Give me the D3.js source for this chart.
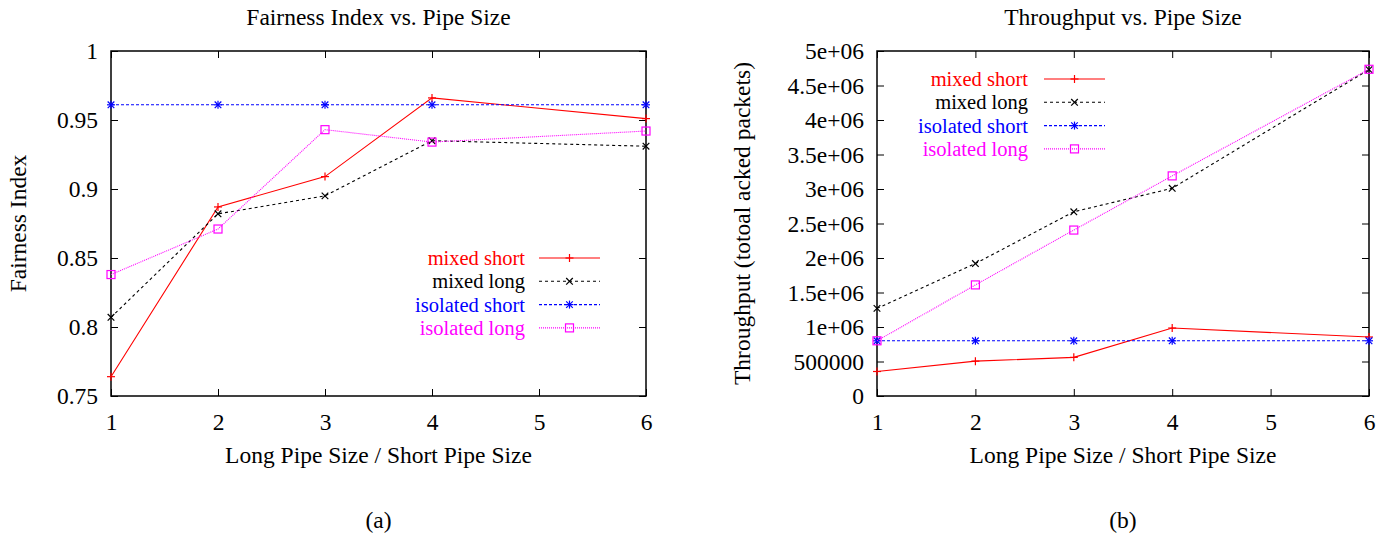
<!DOCTYPE html>
<html>
<head>
<meta charset="utf-8">
<script src="https://cdn.jsdelivr.net/npm/d3@7"></script>
<style>
  html, body { margin: 0; padding: 0; background: #fff; }
  svg { display: block; }
  text { font-family: "Liberation Serif", "Times New Roman", serif; }
</style>
</head>
<body>
<svg id="chart" width="1397" height="538"></svg>
<script>
// ---- data ----
const pipeRatio = [1, 2, 3, 4, 6];
const xTicks = [1, 2, 3, 4, 5, 6];
const seriesNames = ["mixed short", "mixed long", "isolated short", "isolated long"];

const fairMixedShort = [0.764, 0.887, 0.909, 0.966, 0.951];
const fairMixedLong  = [0.807, 0.882, 0.895, 0.935, 0.931];
const fairIsoShort   = [0.961, 0.961, 0.961, 0.961, 0.961];
const fairIsoLong    = [0.838, 0.871, 0.943, 0.934, 0.942];
const fairTicks      = [0.75, 0.8, 0.85, 0.9, 0.95, 1];
const fairTickLabels = ["0.75", "0.8", "0.85", "0.9", "0.95", "1"];

const thrMixedShort = [355000, 505000, 560000, 985000, 855000];
const thrMixedLong  = [1270000, 1920000, 2670000, 3010000, 4730000];
const thrIsoShort   = [800000, 800000, 800000, 800000, 800000];
const thrIsoLong    = [800000, 1610000, 2405000, 3190000, 4735000];
const thrTicks      = [0, 500000, 1000000, 1500000, 2000000, 2500000, 3000000, 3500000, 4000000, 4500000, 5000000];
const thrTickLabels = ["0", "500000", "1e+06", "1.5e+06", "2e+06", "2.5e+06", "3e+06", "3.5e+06", "4e+06", "4.5e+06", "5e+06"];

// ---- styles ----
const styles = [
  { color: "#ff0000", dash: null,  marker: "plus" },
  { color: "#000000", dash: "3,3", marker: "cross" },
  { color: "#0000ff", dash: "3,2", marker: "star" },
  { color: "#ff00ff", dash: "1,1", marker: "square" }
];

const svg = d3.select("#chart");
const FS = 23.5;
const LEG_FS = 20.5;
const FONT = '"Liberation Serif", "Times New Roman", serif';

function txt(g, fs) {
  return g.append("text").attr("font-family", FONT).attr("font-size", fs || FS);
}

function marker(g, type, x, y, color) {
  const s = 4;
  if (type === "plus" || type === "star") {
    g.append("line").attr("x1", x - s).attr("x2", x + s).attr("y1", y).attr("y2", y).attr("stroke", color).attr("stroke-width", 1.2);
    g.append("line").attr("x1", x).attr("x2", x).attr("y1", y - s).attr("y2", y + s).attr("stroke", color).attr("stroke-width", 1.2);
  }
  if (type === "cross" || type === "star") {
    const d = 3.3;
    g.append("line").attr("x1", x - d).attr("x2", x + d).attr("y1", y - d).attr("y2", y + d).attr("stroke", color).attr("stroke-width", 1.2);
    g.append("line").attr("x1", x - d).attr("x2", x + d).attr("y1", y + d).attr("y2", y - d).attr("stroke", color).attr("stroke-width", 1.2);
  }
  if (type === "square") {
    g.append("rect").attr("x", x - 4).attr("y", y - 4).attr("width", 8).attr("height", 8)
      .attr("fill", "none").attr("stroke", color).attr("stroke-width", 1.2);
  }
}

function panel(cfg) {
  const x = d3.scaleLinear().domain([1, 6]).range([cfg.left, cfg.right]);
  const y = d3.scaleLinear().domain(cfg.yDomain).range([cfg.bottom, cfg.top]);
  const g = svg.append("g");
  const tl = 7;

  // axes with inward ticks (mirror on all sides)
  const axB = d3.axisBottom(x).tickValues(xTicks).tickFormat(d3.format("d")).tickSizeInner(-tl).tickSizeOuter(0).tickPadding(17);
  const axT = d3.axisTop(x).tickValues(xTicks).tickFormat("").tickSizeInner(-tl).tickSizeOuter(0);
  const axL = d3.axisLeft(y).tickValues(cfg.yTicks).tickFormat((d, i) => cfg.yLabels[i]).tickSizeInner(-tl).tickSizeOuter(0).tickPadding(13);
  const axR = d3.axisRight(y).tickValues(cfg.yTicks).tickFormat("").tickSizeInner(-tl).tickSizeOuter(0);

  [[axB, `translate(0,${cfg.bottom})`], [axT, `translate(0,${cfg.top})`],
   [axL, `translate(${cfg.left},0)`], [axR, `translate(${cfg.right},0)`]].forEach(([ax, tr]) => {
    const a = g.append("g").attr("transform", tr).call(ax).attr("font-family", FONT).attr("font-size", FS);
    a.select(".domain").remove();
    a.selectAll("line").attr("stroke", "#000").attr("stroke-width", 1);
    a.selectAll("text").attr("fill", "#000");
  });

  // frame
  g.append("rect").attr("x", cfg.left).attr("y", cfg.top)
    .attr("width", cfg.right - cfg.left).attr("height", cfg.bottom - cfg.top)
    .attr("fill", "none").attr("stroke", "#000").attr("stroke-width", 1.5);

  // series
  const line = d3.line().x((d, i) => x(pipeRatio[i])).y(d => y(d));
  cfg.series.forEach((vals, k) => {
    const st = styles[k];
    g.append("path").datum(vals).attr("d", line).attr("fill", "none")
      .attr("stroke", st.color).attr("stroke-width", 1.1)
      .attr("stroke-dasharray", st.dash);
    vals.forEach((v, i) => marker(g, st.marker, x(pipeRatio[i]), y(v), st.color));
  });

  // legend
  seriesNames.forEach((name, k) => {
    const st = styles[k];
    const ly = cfg.legY + k * 23.3;
    txt(g, LEG_FS).attr("x", cfg.legTextRight).attr("y", ly).attr("dy", "0.35em")
      .attr("text-anchor", "end").attr("fill", st.color).text(name);
    g.append("line").attr("x1", cfg.legLineX).attr("x2", cfg.legLineX + 61)
      .attr("y1", ly).attr("y2", ly).attr("stroke", st.color).attr("stroke-width", 1.1)
      .attr("stroke-dasharray", st.dash);
    marker(g, st.marker, cfg.legLineX + 30.5, ly, st.color);
  });

  // titles
  const cx = (cfg.left + cfg.right) / 2;
  txt(g).attr("x", cx).attr("y", 25).attr("text-anchor", "middle").text(cfg.title);
  txt(g).attr("x", cx).attr("y", 463).attr("text-anchor", "middle").text("Long Pipe Size / Short Pipe Size");
  txt(g).attr("x", cx).attr("y", 528).attr("text-anchor", "middle").text(cfg.tag);
  txt(g).attr("transform", `translate(${cfg.yLabelX},${(cfg.top + cfg.bottom) / 2}) rotate(-90)`)
    .attr("text-anchor", "middle").attr("dy", "0.35em").text(cfg.yLabel);
}

panel({
  left: 111, right: 646, top: 51, bottom: 396,
  yDomain: [0.75, 1], yTicks: fairTicks, yLabels: fairTickLabels,
  series: [fairMixedShort, fairMixedLong, fairIsoShort, fairIsoLong],
  legY: 258, legTextRight: 525, legLineX: 539,
  title: "Fairness Index vs. Pipe Size", tag: "(a)",
  yLabel: "Fairness Index", yLabelX: 18
});

panel({
  left: 877, right: 1369, top: 51, bottom: 396,
  yDomain: [0, 5000000], yTicks: thrTicks, yLabels: thrTickLabels,
  series: [thrMixedShort, thrMixedLong, thrIsoShort, thrIsoLong],
  legY: 79, legTextRight: 1028, legLineX: 1044,
  title: "Throughput vs. Pipe Size", tag: "(b)",
  yLabel: "Throughput (totoal acked packets)", yLabelX: 742
});
</script>
</body>
</html>
